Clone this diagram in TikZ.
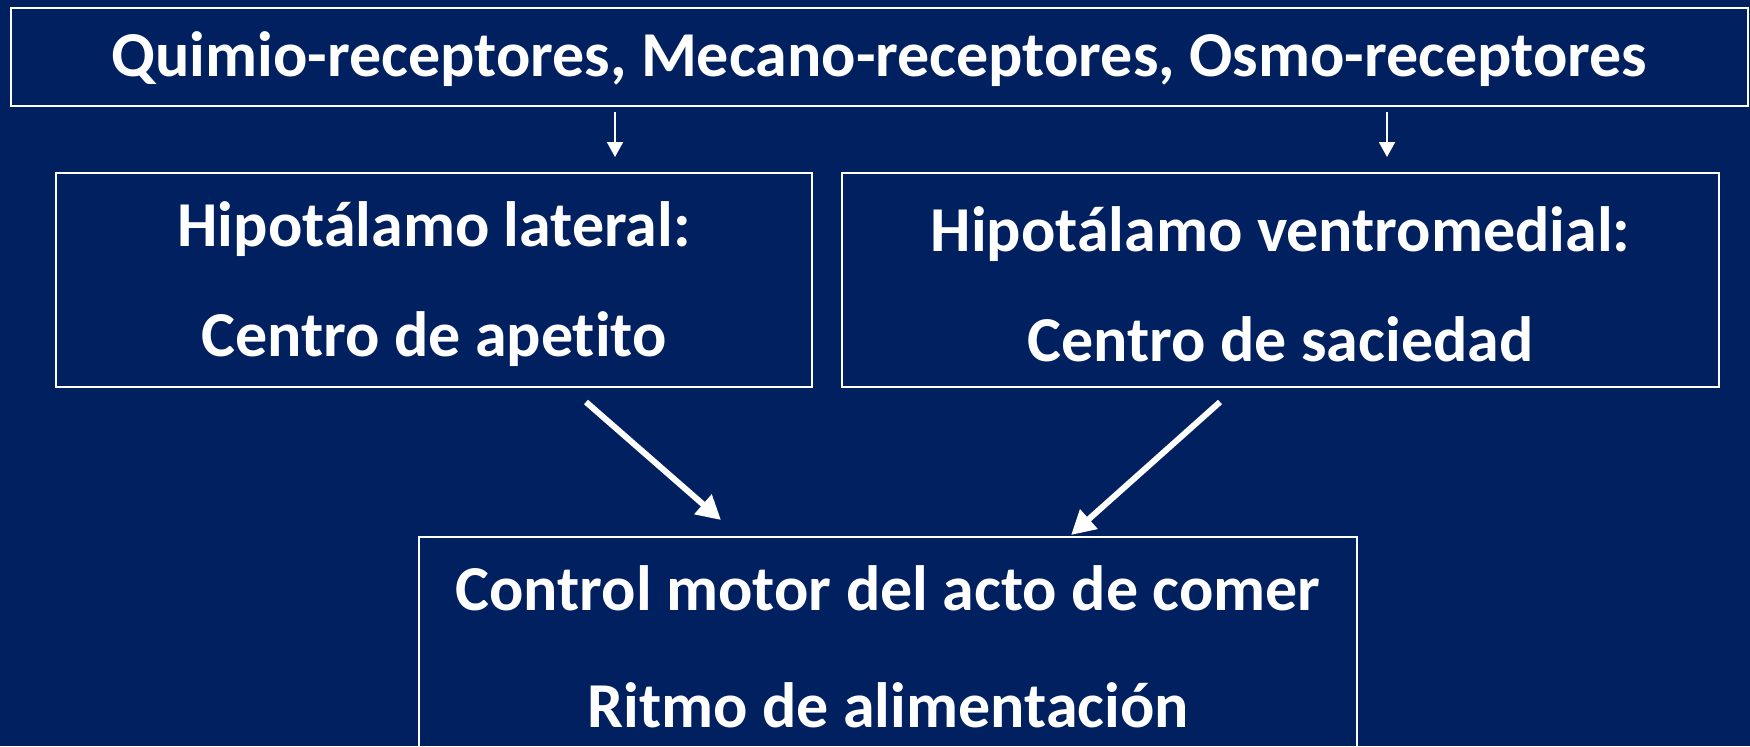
\documentclass[tikz,border=0pt]{standalone}
\usepackage{fontspec}
\setmainfont{Carlito}[Ligatures={NoCommon}]
\usetikzlibrary{arrows.meta}
\definecolor{navy}{RGB}{0,32,96}
\begin{document}
\begin{tikzpicture}[x=0.5pt,y=-0.5pt,
  box/.style={draw=white, line width=1pt, inner sep=0pt},
  label text/.style={text=white, align=center, inner sep=0pt,
    font=\fontsize{32}{55}\selectfont\bfseries},
  thinarrow/.style={draw=white, line width=1pt, -{Triangle[width=8pt,length=7.5pt]}},
  thickarrow/.style={draw=white, line width=3pt, -{Triangle[width=12.5pt,length=12pt]}}]
\fill[navy] (0,0) rectangle (1750,746);
\useasboundingbox (0,0) rectangle (1750,746);
\node[box, minimum width=868.5pt, minimum height=49pt] (top) at (879.5,57) {};
\node[box, minimum width=378pt, minimum height=107pt] (L) at (434,280) {};
\node[box, minimum width=438.5pt, minimum height=107pt] (R) at (1280.5,280) {};
\node[box, minimum width=469pt, minimum height=109.5pt] (B) at (888,646) {};
\node[label text] (topt) at (879.5,59.5) {Quimio-receptores, Mecano-receptores, Osmo-receptores};
\node[label text] (Lt) at (434,284) {Hipotálamo lateral:\\Centro de apetito};
\node[label text] (Rt) at (1280.5,284) {Hipotálamo ventromedial:\\Centro de saciedad};
\node[label text, font=\fontsize{32}{58.5}\selectfont\bfseries] (Bt) at (888,647) {Control motor del acto de comer\\Ritmo de alimentación};
\coordinate (a1) at (615,112);
\coordinate (a2) at (1387,112);
\coordinate (s1) at (586,402);
\coordinate (t1) at (721,520);
\coordinate (s2) at (1220,402);
\coordinate (t2) at (1071,535);
\draw[thinarrow, shorten >=7.5pt] (a1) -- (L.north -| a1);
\draw[thinarrow, shorten >=7.5pt] (a2) -- (R.north -| a2);
\draw[thickarrow] (s1) -- (t1);
\draw[thickarrow] (s2) -- (t2);
\end{tikzpicture}
\end{document}
